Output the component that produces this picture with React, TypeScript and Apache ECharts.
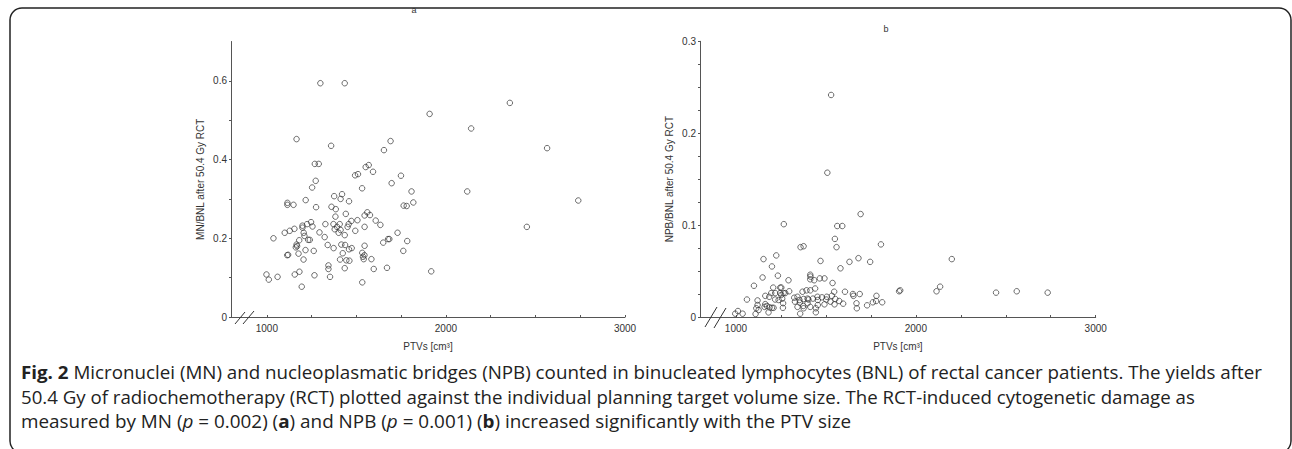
import React, { useEffect, useRef } from "react";
import * as echarts from "echarts";

// ---- Panel a: MN/BNL vs PTV ----
const mnPtv: number[] = [
  1299, 1435, 1909, 2141, 1166, 1359, 1691, 1654, 1268, 1290, 1569, 1552, 1593, 1509, 1493, 1749,
  1273, 1697, 1253, 1532, 1808, 2119, 1376, 1420, 1217, 1412, 1459, 1818, 1764, 1781, 1115, 1115,
  1149, 1275, 1361, 1385, 1441, 1561, 1546, 1576, 1383, 1608, 1634, 1506, 1472, 1546, 1494, 1457,
  1451, 1372, 1407, 1392, 1379, 1412, 1401, 1435, 1327, 1247, 1225, 1255, 1199, 1199, 1100, 1128,
  1154, 1206, 1210, 1294, 1323, 1037, 1231, 1240, 1181, 1166, 1162, 1169, 1340, 1373, 1416, 1437,
  1459, 1474, 1424, 1546, 1650, 1677, 1684, 1730, 1784, 1762, 1918, 1262, 1216, 1177, 1114, 1119,
  1205, 1344, 1344, 1409, 1444, 1461, 1435, 1533, 1537, 1545, 1541, 1584, 1597, 1671, 1533, 1353,
  1266, 1156, 1182, 1060, 998, 1011, 1195, 2357, 2565, 2739, 2452,
];
const mnValues: number[] = [
  0.594, 0.594, 0.516, 0.479, 0.452, 0.435, 0.447, 0.424, 0.389, 0.389, 0.386, 0.381, 0.369, 0.363, 0.36, 0.359,
  0.346, 0.34, 0.329, 0.327, 0.319, 0.319, 0.307, 0.312, 0.297, 0.3, 0.294, 0.291, 0.283, 0.282, 0.29, 0.285,
  0.285, 0.279, 0.28, 0.274, 0.262, 0.266, 0.258, 0.259, 0.255, 0.245, 0.234, 0.246, 0.244, 0.229, 0.219, 0.236,
  0.229, 0.236, 0.236, 0.229, 0.223, 0.221, 0.214, 0.208, 0.236, 0.241, 0.236, 0.23, 0.232, 0.227, 0.214, 0.219,
  0.224, 0.214, 0.206, 0.215, 0.203, 0.2, 0.196, 0.196, 0.195, 0.184, 0.177, 0.18, 0.183, 0.175, 0.184, 0.183,
  0.172, 0.175, 0.162, 0.181, 0.189, 0.198, 0.198, 0.214, 0.193, 0.168, 0.116, 0.168, 0.17, 0.161, 0.157, 0.158,
  0.146, 0.131, 0.122, 0.146, 0.144, 0.143, 0.124, 0.163, 0.153, 0.157, 0.147, 0.147, 0.122, 0.125, 0.088, 0.102,
  0.106, 0.108, 0.115, 0.102, 0.108, 0.095, 0.077, 0.544, 0.429, 0.296, 0.229,
];

// ---- Panel b: NPB/BNL vs PTV ----
const npbPtv: number[] = [
  1529, 1508, 1693, 1266, 1563, 1591, 1550, 1559, 1359, 1376, 1806, 2200, 1153, 1224, 1200, 1470,
  1681, 1631, 1746, 1581, 1148, 1233, 1100, 1292, 1413, 1414, 1413, 1435, 1466, 1492, 1537, 1246,
  1252, 1207, 1296, 1274, 1246, 1218, 1196, 1163, 1185, 1120, 1061, 1252, 1265, 1342, 1370, 1392,
  1413, 1440, 1324, 1353, 1376, 1398, 1428, 1453, 1455, 1478, 1505, 1533, 1546, 1552, 1574, 1606,
  1650, 1653, 1688, 1781, 1779, 1813, 1761, 1729, 1670, 1672, 1913, 1907, 2135, 2115, 1596, 1548,
  1525, 1502, 1492, 1455, 1444, 1444, 1413, 1398, 1374, 1355, 1342, 1328, 1357, 1376, 1403, 1257,
  1262, 1261, 1218, 1237, 1209, 1200, 1187, 1172, 1163, 1159, 1181, 1120, 1113, 1126, 1109, 996,
  1011, 1037, 2446, 2561, 2733,
];
const npbValues: number[] = [
  0.2416, 0.157, 0.112, 0.101, 0.099, 0.099, 0.085, 0.076, 0.076, 0.077, 0.079, 0.063, 0.063, 0.067, 0.055, 0.061,
  0.064, 0.06, 0.06, 0.053, 0.043, 0.045, 0.034, 0.04, 0.046, 0.044, 0.041, 0.04, 0.042, 0.042, 0.037, 0.032,
  0.032, 0.032, 0.028, 0.026, 0.026, 0.026, 0.026, 0.023, 0.022, 0.018, 0.019, 0.024, 0.026, 0.022, 0.0275, 0.029,
  0.029, 0.031, 0.021, 0.0185, 0.0196, 0.02, 0.02, 0.022, 0.0185, 0.0214, 0.022, 0.023, 0.0275, 0.0196, 0.0174, 0.0275,
  0.025, 0.023, 0.025, 0.023, 0.0174, 0.016, 0.016, 0.0127, 0.0149, 0.0095, 0.029, 0.028, 0.033, 0.028, 0.0145, 0.0138,
  0.0167, 0.019, 0.0138, 0.013, 0.0095, 0.0051, 0.011, 0.015, 0.012, 0.0156, 0.011, 0.0167, 0.0036, 0.0095, 0.019, 0.02,
  0.015, 0.01, 0.019, 0.0185, 0.01, 0.01, 0.0105, 0.012, 0.014, 0.011, 0.005, 0.013, 0.0095, 0.0076, 0.0033, 0.0036,
  0.0065, 0.0036, 0.0265, 0.028, 0.0265,
];

// ---- Axis ticks & labels ----
const xTicks: number[] = [1000, 1250, 1500, 1750, 2000, 2250, 2500, 2750, 3000];
const xLabels: number[] = [1000, 2000, 3000];
const mnYTicks: number[] = [0, 0.1, 0.2, 0.3, 0.4, 0.5, 0.6];
const mnYLabels: number[] = [0, 0.2, 0.4, 0.6];
const npbYTicks: number[] = [0, 0.025, 0.05, 0.075, 0.1, 0.125, 0.15, 0.175, 0.2, 0.225, 0.25, 0.275, 0.3];
const npbYLabels: number[] = [0, 0.1, 0.2, 0.3];

const xName = "PTVs [cm³]";
const mnYName = "MN/BNL after 50.4 Gy RCT";
const npbYName = "NPB/BNL after 50.4 Gy RCT";

const captionLines: string[] = [
  "{b|Fig. 2} Micronuclei (MN) and nucleoplasmatic bridges (NPB) counted in binucleated lymphocytes (BNL) of rectal cancer patients. The yields after",
  "50.4 Gy of radiochemotherapy (RCT) plotted against the individual planning target volume size. The RCT-induced cytogenetic damage as",
  "measured by MN ({i|p} = 0.002) ({b|a}) and NPB ({i|p} = 0.001) ({b|b}) increased significantly with the PTV size",
];
// Approximate rendered width of each caption line in the reference
const captionWidths: number[] = [1240, 1174, 830];

const AXIS_COLOR = "#555";
const TEXT_COLOR = "#333";
const FONT = "Arial, 'Liberation Sans', sans-serif";
const CAP_FONT = "'Open Sans', 'Noto Sans', sans-serif";
const CAP_SIZE = 18;

function makeX(gridIndex: number) {
  return {
    gridIndex,
    type: "value",
    min: 800,
    max: 3000,
    name: xName,
    nameLocation: "middle",
    nameGap: 24,
    nameTextStyle: { fontSize: 10, color: TEXT_COLOR, fontFamily: FONT },
    axisLine: { show: true, onZero: false, lineStyle: { color: AXIS_COLOR, width: 1 } },
    axisTick: { show: true, inside: true, length: 2, customValues: xTicks, lineStyle: { color: AXIS_COLOR } },
    axisLabel: {
      customValues: xLabels,
      formatter: (v: number) => String(v),
      fontSize: 10,
      color: TEXT_COLOR,
      fontFamily: FONT,
      margin: 6,
    },
    splitLine: { show: false },
  };
}

function makeY(gridIndex: number, max: number, ticks: number[], labels: number[], name: string) {
  return {
    gridIndex,
    type: "value",
    min: 0,
    max,
    name,
    nameLocation: "middle",
    nameGap: 26,
    nameTextStyle: { fontSize: 10, color: TEXT_COLOR, fontFamily: FONT },
    axisLine: { show: true, onZero: false, lineStyle: { color: AXIS_COLOR, width: 1 } },
    axisTick: { show: true, inside: false, length: 2, customValues: ticks, lineStyle: { color: AXIS_COLOR } },
    axisLabel: {
      customValues: labels,
      formatter: (v: number) => String(v),
      fontSize: 10,
      color: TEXT_COLOR,
      fontFamily: FONT,
      margin: 4,
    },
    splitLine: { show: false },
  };
}

const symbolStyle = { color: "rgba(0,0,0,0)", borderColor: "#333", borderWidth: 0.9 };

function measureScale(text: string, target: number): number {
  try {
    const ctx = document.createElement("canvas").getContext("2d");
    if (!ctx) return 1;
    const plain = text.replace(/\{[a-z]\|([^}]*)\}/g, "$1");
    ctx.font = `${CAP_SIZE}px ${CAP_FONT}`;
    const w = ctx.measureText(plain).width;
    if (!w) return 1;
    return target / w;
  } catch (e) {
    return 1;
  }
}

export default function App() {
  const ref = useRef<HTMLDivElement>(null);
  useEffect(() => {
    document.body.style.margin = "0";
    if (!ref.current) return;
    const chart = echarts.init(ref.current, undefined, { renderer: "svg" });
    const line = (x1: number, y1: number, x2: number, y2: number) => ({
      type: "line",
      shape: { x1, y1, x2, y2 },
      style: { stroke: "#333", lineWidth: 1 },
      z: 10,
    });
    const option: any = {
      animation: false,
      backgroundColor: "#fff",
      grid: [
        { left: 231, top: 41.5, width: 394, height: 275.5 },
        { left: 700, top: 41.3, width: 395.7, height: 275.7 },
      ],
      xAxis: [makeX(0), makeX(1)],
      yAxis: [
        makeY(0, 0.7, mnYTicks, mnYLabels, mnYName),
        makeY(1, 0.3, npbYTicks, npbYLabels, npbYName),
      ],
      series: [
        {
          type: "scatter",
          xAxisIndex: 0,
          yAxisIndex: 0,
          symbol: "circle",
          symbolSize: 5.5,
          itemStyle: symbolStyle,
          data: mnPtv.map((x, i) => [x, mnValues[i]]),
        },
        {
          type: "scatter",
          xAxisIndex: 1,
          yAxisIndex: 1,
          symbol: "circle",
          symbolSize: 5.5,
          itemStyle: symbolStyle,
          data: npbPtv.map((x, i) => [x, npbValues[i]]),
        },
      ],
      graphic: [
        {
          type: "rect",
          shape: { x: 10, y: 8, width: 1281, height: 445, r: 12 },
          style: { fill: "none", stroke: "#222", lineWidth: 1.5 },
          silent: true,
          z: 0,
        },
        line(235, 324, 245, 312),
        line(243, 324, 254, 311),
        line(705, 327, 717, 307),
        line(714, 328, 726, 308),
        {
          type: "text",
          x: 414,
          y: 10,
          style: { text: "a", fontSize: 9, fill: TEXT_COLOR, fontFamily: FONT, align: "center", verticalAlign: "middle" },
        },
        {
          type: "text",
          x: 886,
          y: 29,
          style: { text: "b", fontSize: 9, fill: TEXT_COLOR, fontFamily: FONT, align: "center", verticalAlign: "middle" },
        },
        ...captionLines.map((t, i) => ({
          type: "text",
          x: 21,
          y: 372 + i * 24.5,
          scaleX: measureScale(t, captionWidths[i]),
          style: {
            text: t,
            fontSize: CAP_SIZE,
            fontFamily: CAP_FONT,
            fill: "#222",
            verticalAlign: "middle",
            rich: {
              b: { fontWeight: "bold", fontSize: CAP_SIZE, fontFamily: CAP_FONT, fill: "#222" },
              i: { fontStyle: "italic", fontSize: CAP_SIZE, fontFamily: CAP_FONT, fill: "#222" },
            },
          },
        })),
      ],
    };
    chart.setOption(option);
    return () => chart.dispose();
  }, []);
  return <div ref={ref} style={{ width: 1292, height: 449 }} />;
}
